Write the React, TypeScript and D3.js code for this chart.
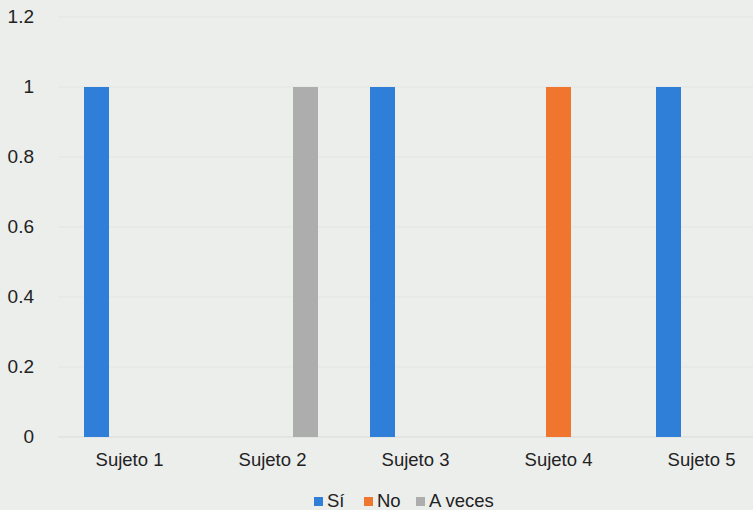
import React from 'react'
import * as d3 from 'd3'

// data
const subjects = ['Sujeto 1', 'Sujeto 2', 'Sujeto 3', 'Sujeto 4', 'Sujeto 5']
const seriesNames = ['Sí', 'No', 'A veces']
const si = [1, 0, 1, 0, 1]
const no = [0, 0, 0, 1, 0]
const aVeces = [0, 1, 0, 0, 0]
const yTicks = [0, 0.2, 0.4, 0.6, 0.8, 1, 1.2]
const colors = ['#2f7fd8', '#f0752f', '#adadad']

export default function App() {
  const width = 753
  const height = 510
  const font = '"Liberation Sans", Arial, sans-serif'

  const values = [si, no, aVeces]

  // scales
  const x0 = d3.scaleBand().domain(subjects).range([58, 773]).padding(0)
  const x1 = d3
    .scaleBand()
    .domain(seriesNames)
    .range([0, x0.bandwidth()])
    .paddingInner(0.2424)
    .paddingOuter(0.788)
  const y = d3.scaleLinear().domain([0, 1.2]).range([437, 17])

  return (
    <svg
      width={width}
      height={height}
      style={{ position: 'absolute', left: 0, top: 0, background: '#eceeec' }}
    >
      <rect x={0} y={0} width={width} height={height} fill="#eceeec" />
      {/* grid */}
      {yTicks.map(t => (
        <line
          key={t}
          x1={58}
          x2={width}
          y1={y(t)}
          y2={y(t)}
          stroke={t === 0 ? '#d9dbd9' : '#e3e5e3'}
          strokeWidth={1}
        />
      ))}
      {/* y labels */}
      {yTicks.map(t => (
        <text
          key={'l' + t}
          x={34}
          y={y(t) + 6}
          textAnchor="end"
          fontFamily={font}
          fontSize={19}
          fill="#222"
        >
          {String(t)}
        </text>
      ))}
      {/* bars */}
      {subjects.map((s, i) =>
        seriesNames.map((name, j) => {
          const v = values[j][i]
          if (!v) return null
          return (
            <rect
              key={s + name}
              x={(x0(s) as number) + (x1(name) as number)}
              y={y(v)}
              width={x1.bandwidth()}
              height={y(0) - y(v)}
              fill={colors[j]}
            />
          )
        })
      )}
      {/* x labels */}
      {subjects.map(s => (
        <text
          key={'x' + s}
          x={(x0(s) as number) + x0.bandwidth() / 2}
          y={466}
          textAnchor="middle"
          fontFamily={font}
          fontSize={18.5}
          fill="#222"
        >
          {s}
        </text>
      ))}
      {/* legend */}
      {seriesNames.map((name, j) => {
        const lx = [314, 364, 416][j]
        return (
          <g key={'lg' + name}>
            <rect x={lx} y={497} width={9} height={9} fill={colors[j]} />
            <text x={lx + 13} y={507} fontFamily={font} fontSize={18.5} fill="#222">
              {name}
            </text>
          </g>
        )
      })}
    </svg>
  )
}
